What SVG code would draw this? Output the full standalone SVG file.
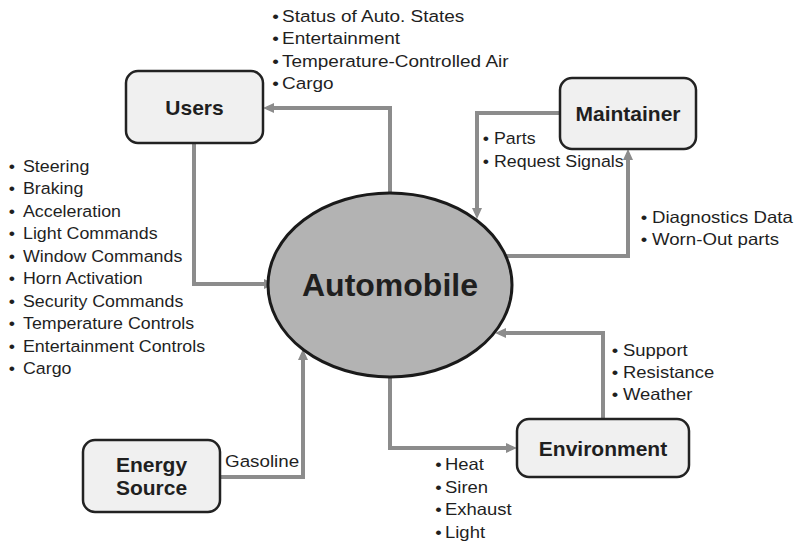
<svg xmlns="http://www.w3.org/2000/svg" width="797" height="543" viewBox="0 0 797 543">
<style>
.box{fill:#f0f0f0;stroke:#222;stroke-width:2.5}
.ell{fill:#b3b3b3;stroke:#1a1a1a;stroke-width:3}
.conn{fill:none;stroke:#8c8c8c;stroke-width:4;stroke-linejoin:miter}
.title{font-family:"Liberation Sans",Arial,sans-serif;font-weight:bold;font-size:21px;fill:#1f1f1f;text-anchor:middle}
.big{font-family:"Liberation Sans",Arial,sans-serif;font-weight:bold;font-size:32px;fill:#1f1f1f;text-anchor:middle}
.lbl{font-family:"Liberation Sans",Arial,sans-serif;font-size:16.5px;fill:#1f1f1f}
</style>
<defs>
<marker id="arr" markerUnits="userSpaceOnUse" markerWidth="11" markerHeight="10" viewBox="0 0 11 10" refX="7" refY="5" orient="auto">
<path d="M0,0 L11,5 L0,10 z" fill="#8c8c8c"/>
</marker>
</defs>
<rect width="797" height="543" fill="#ffffff"/>
<g id="connectors">
<path class="conn" d="M390,195 V108 H267" marker-end="url(#arr)"/>
<path class="conn" d="M194,143 V284 H271" marker-end="url(#arr)"/>
<path class="conn" d="M560,113 H477 V215" marker-end="url(#arr)"/>
<path class="conn" d="M506,256 H628 V153" marker-end="url(#arr)"/>
<path class="conn" d="M603,419 V333 H499" marker-end="url(#arr)"/>
<path class="conn" d="M390,376 V448 H513" marker-end="url(#arr)"/>
<path class="conn" d="M220,477 H303 V353" marker-end="url(#arr)"/>
</g>
<g id="automobile">
<ellipse class="ell" cx="390" cy="285" rx="122" ry="92"/>
<text class="big" x="390" y="296">Automobile</text>
</g>
<g id="users">
<rect class="box" x="126" y="71" width="137" height="72" rx="12"/>
<text class="title" x="194.5" y="114.5">Users</text>
</g>
<g id="maintainer">
<rect class="box" x="560" y="78" width="136" height="71" rx="12"/>
<text class="title" x="628" y="121">Maintainer</text>
</g>
<g id="environment">
<rect class="box" x="517" y="419" width="172" height="58" rx="12"/>
<text class="title" x="603" y="455.5">Environment</text>
</g>
<g id="energy-source">
<rect class="box" x="83" y="440" width="137" height="72" rx="12"/>
<text class="title" x="151.5" y="472">Energy</text>
<text class="title" x="151.5" y="495">Source</text>
</g>
<g id="labels">
<g class="lbl" transform="translate(282,0) scale(1.15,1)">
<text y="22"><tspan x="-8.4">•</tspan><tspan x="0">Status of Auto. States</tspan></text>
<text y="44.5"><tspan x="-8.4">•</tspan><tspan x="0">Entertainment</tspan></text>
<text y="67"><tspan x="-8.4">•</tspan><tspan x="0">Temperature-Controlled Air</tspan></text>
<text y="89.5"><tspan x="-8.4">•</tspan><tspan x="0">Cargo</tspan></text>
</g>
<g class="lbl" transform="translate(23,0) scale(1.08,1)">
<text y="172"><tspan x="-13.3">•</tspan><tspan x="0">Steering</tspan></text>
<text y="194.5"><tspan x="-13.3">•</tspan><tspan x="0">Braking</tspan></text>
<text y="217"><tspan x="-13.3">•</tspan><tspan x="0">Acceleration</tspan></text>
<text y="239.5"><tspan x="-13.3">•</tspan><tspan x="0">Light Commands</tspan></text>
<text y="262"><tspan x="-13.3">•</tspan><tspan x="0">Window Commands</tspan></text>
<text y="284.5"><tspan x="-13.3">•</tspan><tspan x="0">Horn Activation</tspan></text>
<text y="307"><tspan x="-13.3">•</tspan><tspan x="0">Security Commands</tspan></text>
<text y="329.5"><tspan x="-13.3">•</tspan><tspan x="0">Temperature Controls</tspan></text>
<text y="352"><tspan x="-13.3">•</tspan><tspan x="0">Entertainment Controls</tspan></text>
<text y="374"><tspan x="-13.3">•</tspan><tspan x="0">Cargo</tspan></text>
</g>
<g class="lbl" transform="translate(494,0) scale(1.08,1)">
<text y="144"><tspan x="-10.5">•</tspan><tspan x="0">Parts</tspan></text>
<text y="167"><tspan x="-10.5">•</tspan><tspan x="0">Request Signals</tspan></text>
</g>
<g class="lbl" transform="translate(652,0) scale(1.13,1)">
<text y="223"><tspan x="-10">•</tspan><tspan x="0">Diagnostics Data</tspan></text>
<text y="245.5"><tspan x="-10">•</tspan><tspan x="0">Worn-Out parts</tspan></text>
</g>
<g class="lbl" transform="translate(623,0) scale(1.12,1)">
<text y="356"><tspan x="-10.1">•</tspan><tspan x="0">Support</tspan></text>
<text y="378"><tspan x="-10.1">•</tspan><tspan x="0">Resistance</tspan></text>
<text y="400"><tspan x="-10.1">•</tspan><tspan x="0">Weather</tspan></text>
</g>
<g class="lbl" transform="translate(445,0) scale(1.12,1)">
<text y="470.5"><tspan x="-8.8">•</tspan><tspan x="0">Heat</tspan></text>
<text y="493"><tspan x="-8.8">•</tspan><tspan x="0">Siren</tspan></text>
<text y="515.5"><tspan x="-8.8">•</tspan><tspan x="0">Exhaust</tspan></text>
<text y="538"><tspan x="-8.8">•</tspan><tspan x="0">Light</tspan></text>
</g>
<g class="lbl" transform="translate(225,0) scale(1.14,1)">
<text x="0" y="467">Gasoline</text>
</g>
</g>
</svg>
